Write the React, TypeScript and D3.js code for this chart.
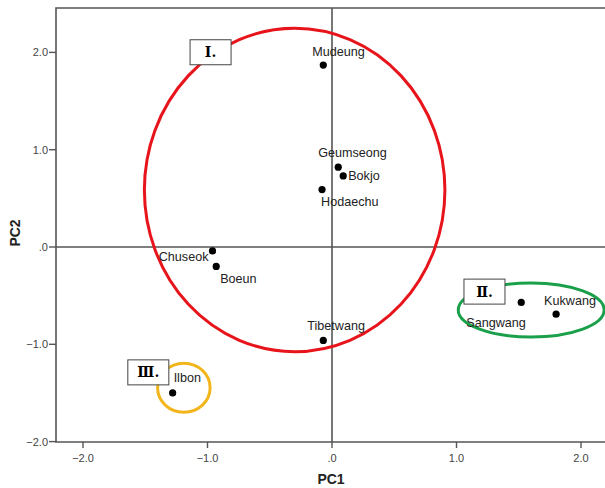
import React from "react";
import * as d3 from "d3";

// PCA scores for each cultivar
const cultivars = ["Mudeung", "Geumseong", "Bokjo", "Hodaechu", "Chuseok", "Boeun", "Tibetwang", "Sangwang", "Kukwang", "Ilbon"];
const pc1 = [-0.07, 0.05, 0.09, -0.08, -0.96, -0.93, -0.07, 1.52, 1.8, -1.28];
const pc2 = [1.87, 0.82, 0.73, 0.59, -0.04, -0.2, -0.96, -0.57, -0.69, -1.5];

const xTicks = [-2, -1, 0, 1, 2];
const yTicks = [-2, -1, 0, 1, 2];

// Cluster groupings: centre and radii in PC units
const groupNames = ["Ⅰ.", "Ⅱ.", "Ⅲ."];
const groupCx = [-0.3, 1.6, -1.19];
const groupCy = [0.586, -0.647, -1.447];
const groupRx = [1.207, 0.586, 0.211];
const groupRy = [1.662, 0.278, 0.252];
const groupColors = ["#e8141b", "#1aa04a", "#f2b51c"];
// Tag box anchor (top-left) in PC units
const tagX = [-1.14, 1.06, -1.64];
const tagY = [2.13, -0.33, -1.16];

// Label offsets from each point, in pixels [dx, dy, anchor]
const labelPlacement: Record<string, [number, number, string]> = {
  Mudeung: [-11, -9, "start"],
  Geumseong: [-20, -10, "start"],
  Bokjo: [5, 4, "start"],
  Hodaechu: [-1, 16, "start"],
  Chuseok: [-4, 10, "end"],
  Boeun: [4, 17, "start"],
  Tibetwang: [-16, -10, "start"],
  Sangwang: [-55, 25, "start"],
  Kukwang: [-12, -9, "start"],
  Ilbon: [1, -11, "start"],
};

const fmt = (v: number) => {
  if (v === 0) return ".0";
  return d3.format(".1f")(v);
};

export default function App() {
  const W = 605;
  const H = 488;
  const left = 56;
  const top = 8;
  const bottom = 442;
  const right = 620;

  const x = d3.scaleLinear().domain([-2, 2]).range([83, 581]);
  const y = d3.scaleLinear().domain([-2, 2]).range([441.6, 52.4]);

  const axisColor = "#555";
  const font = "'Liberation Sans', Arial, sans-serif";

  return (
    <svg
      width={W}
      height={H}
      style={{ position: "absolute", left: 0, top: 0, background: "#fff" }}
      fontFamily={font}
    >
      <rect x={0} y={0} width={W} height={H} fill="#fff" />

      {/* reference lines through the origin */}
      <line x1={x(0)} x2={x(0)} y1={top} y2={bottom} stroke={axisColor} strokeWidth={1.6} />
      <line x1={left} x2={right} y1={y(0)} y2={y(0)} stroke={axisColor} strokeWidth={1.6} />

      {/* plot frame */}
      <path
        d={`M${right},${top} L${left},${top} L${left},${bottom} L${right},${bottom}`}
        fill="none"
        stroke={axisColor}
        strokeWidth={1.6}
      />

      {/* x axis ticks */}
      {xTicks.map((t) => (
        <g key={"xt" + t}>
          <line x1={x(t)} x2={x(t)} y1={bottom} y2={bottom + 6} stroke={axisColor} strokeWidth={1.4} />
          <text x={x(t)} y={bottom + 20} textAnchor="middle" fontSize={11} fill="#444">
            {fmt(t)}
          </text>
        </g>
      ))}

      {/* y axis ticks */}
      {yTicks.map((t) => (
        <g key={"yt" + t}>
          <line x1={left - 7} x2={left} y1={y(t)} y2={y(t)} stroke={axisColor} strokeWidth={1.4} />
          <text x={left - 8} y={y(t) + 4} textAnchor="end" fontSize={11} fill="#444">
            {fmt(t)}
          </text>
        </g>
      ))}

      {/* axis titles */}
      <text x={331} y={484} textAnchor="middle" fontSize={14} fontWeight="bold" fill="#222">
        PC1
      </text>
      <text
        transform={`translate(20,233) rotate(-90)`}
        textAnchor="middle"
        fontSize={14}
        fontWeight="bold"
        fill="#222"
      >
        PC2
      </text>

      {/* cluster ellipses */}
      {groupNames.map((g, i) => (
        <ellipse
          key={"el" + i}
          cx={x(groupCx[i])}
          cy={y(groupCy[i])}
          rx={x(groupRx[i]) - x(0)}
          ry={y(0) - y(groupRy[i])}
          fill="none"
          stroke={groupColors[i]}
          strokeWidth={3}
        />
      ))}

      {/* points */}
      {cultivars.map((c, i) => (
        <circle key={"pt" + c} cx={x(pc1[i])} cy={y(pc2[i])} r={3.6} fill="#000" />
      ))}

      {/* point labels */}
      {cultivars.map((c, i) => {
        const [dx, dy, anchor] = labelPlacement[c];
        return (
          <text
            key={"lb" + c}
            x={x(pc1[i]) + dx}
            y={y(pc2[i]) + dy}
            textAnchor={anchor}
            fontSize={12.6}
            fill="#222"
          >
            {c}
          </text>
        );
      })}

      {/* cluster tags */}
      {groupNames.map((g, i) => (
        <g key={"tag" + i} transform={`translate(${x(tagX[i])},${y(tagY[i])})`}>
          <rect x={0} y={0} width={41} height={25} fill="#fff" stroke="#444" strokeWidth={1} />
          <text
            x={20.5}
            y={17.5}
            textAnchor="middle"
            fontSize={14}
            fontWeight="bold"
            fontFamily="'DejaVu Serif', 'Liberation Serif', 'Noto Sans CJK KR', serif"
            fill="#000"
          >
            {g}
          </text>
        </g>
      ))}
    </svg>
  );
}
